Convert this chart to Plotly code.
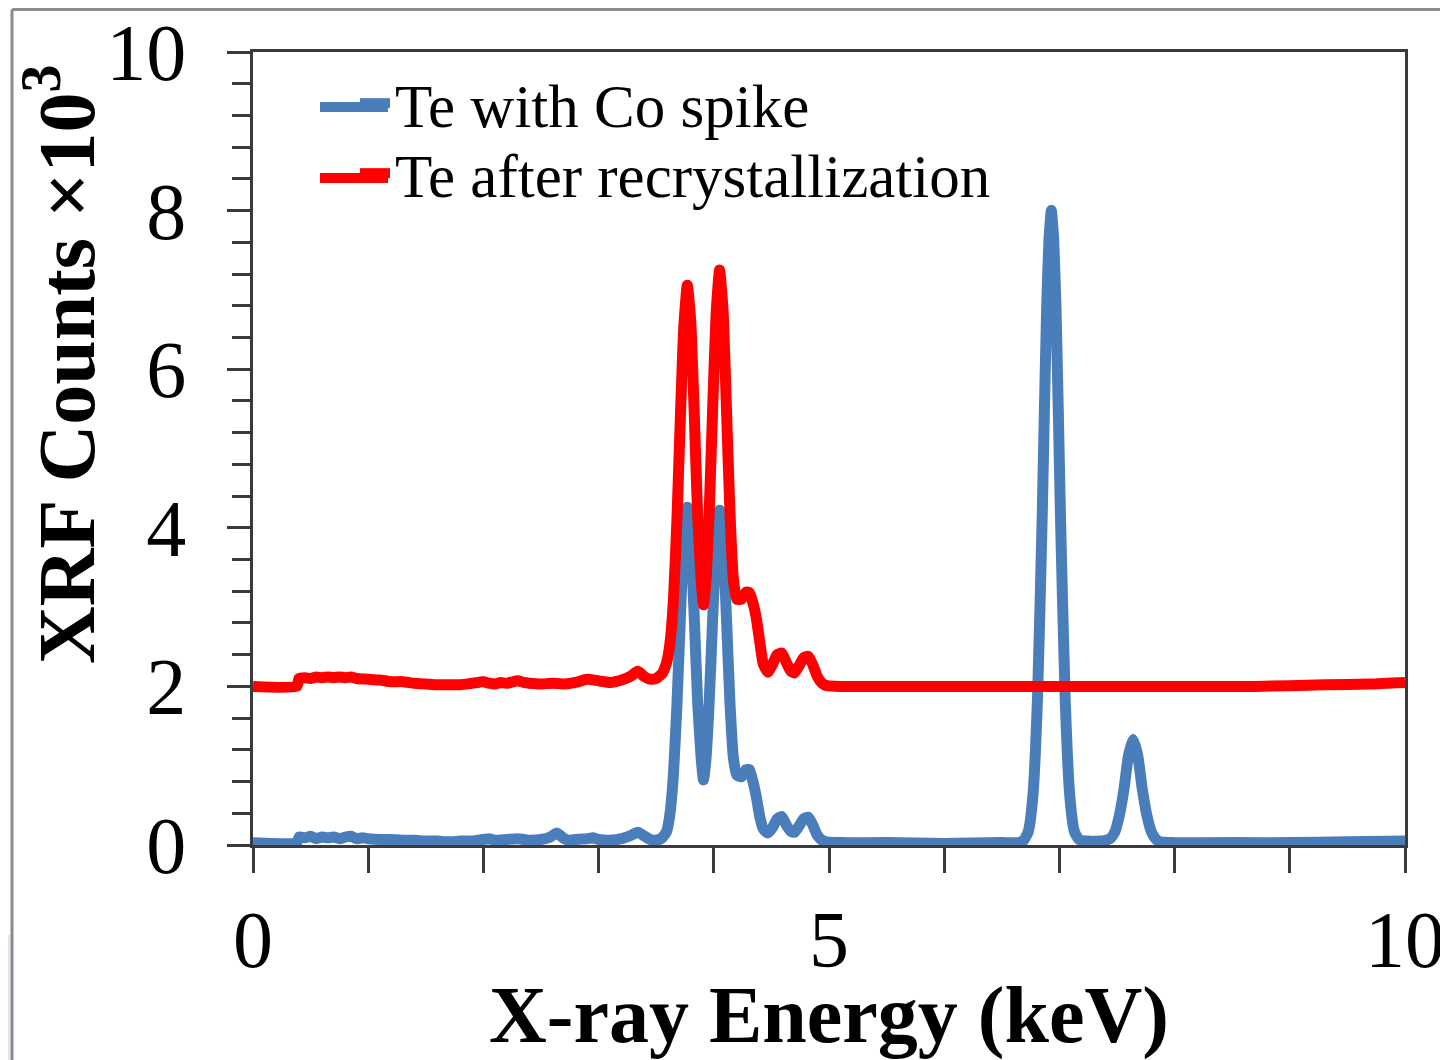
import plotly.graph_objects as go

# ---- data (energy in keV, counts x10^3) ----
co_energy = [0.00, 0.38, 0.40, 0.45, 0.50, 0.55, 0.60, 0.65, 0.70, 0.75, 0.80, 0.85, 0.90, 0.95, 1.00,
             1.10, 1.20, 1.30, 1.40, 1.50, 1.60, 1.70, 1.80, 1.90, 2.00, 2.05, 2.10, 2.20, 2.30, 2.35,
             2.40, 2.50, 2.58, 2.64, 2.70, 2.75, 2.80, 2.90, 2.95, 3.00, 3.10, 3.20, 3.28, 3.34, 3.40,
             3.45, 3.50, 3.55, 3.59, 3.62, 3.65, 3.68, 3.71, 3.74, 3.77, 3.80, 3.83, 3.86, 3.89, 3.91,
             3.93, 3.96, 3.99, 4.02, 4.05, 4.08, 4.11, 4.14, 4.17, 4.20, 4.24, 4.28, 4.31, 4.34, 4.37,
             4.40, 4.43, 4.47, 4.51, 4.55, 4.59, 4.63, 4.67, 4.70, 4.74, 4.78, 4.82, 4.86, 4.90, 4.94,
             4.98, 5.10, 5.50, 6.00, 6.50, 6.65, 6.69, 6.73, 6.77, 6.81, 6.85, 6.87, 6.89, 6.91, 6.93,
             6.95, 6.97, 6.99, 7.01, 7.05, 7.09, 7.13, 7.17, 7.25, 7.35, 7.40, 7.44, 7.48, 7.52, 7.56,
             7.60, 7.64, 7.68, 7.72, 7.76, 7.80, 7.84, 7.88, 8.00, 8.50, 9.00, 9.50, 10.00]
co_counts = [0.03, 0.03, 0.10, 0.09, 0.11, 0.08, 0.10, 0.09, 0.10, 0.08, 0.10, 0.11, 0.08, 0.09, 0.08,
             0.07, 0.07, 0.06, 0.06, 0.05, 0.05, 0.04, 0.05, 0.05, 0.07, 0.08, 0.06, 0.07, 0.08, 0.07,
             0.06, 0.07, 0.10, 0.15, 0.08, 0.06, 0.07, 0.08, 0.09, 0.07, 0.06, 0.08, 0.12, 0.16, 0.11,
             0.07, 0.06, 0.09, 0.17, 0.40, 0.90, 1.77, 2.87, 3.86, 4.26, 3.86, 2.88, 1.80, 1.10, 0.82,
             1.05, 1.80, 2.85, 3.81, 4.22, 3.82, 2.86, 1.80, 1.10, 0.88, 0.86, 0.95, 0.95, 0.80, 0.60,
             0.35, 0.20, 0.15, 0.22, 0.33, 0.36, 0.25, 0.17, 0.16, 0.24, 0.33, 0.35, 0.25, 0.12, 0.06,
             0.04, 0.03, 0.03, 0.02, 0.03, 0.03, 0.06, 0.17, 0.62, 1.85, 4.10, 5.50, 6.80, 7.65, 8.00,
             7.65, 6.80, 5.50, 4.10, 1.85, 0.62, 0.17, 0.07, 0.05, 0.05, 0.06, 0.08, 0.16, 0.37, 0.70,
             1.13, 1.33, 1.13, 0.70, 0.37, 0.16, 0.07, 0.04, 0.03, 0.03, 0.03, 0.04, 0.05]

rx_energy = [0.00, 0.38, 0.40, 0.45, 0.50, 0.55, 0.60, 0.65, 0.70, 0.75, 0.80, 0.85, 0.90, 1.00, 1.10,
             1.20, 1.30, 1.40, 1.50, 1.60, 1.70, 1.80, 1.90, 2.00, 2.05, 2.10, 2.15, 2.20, 2.30, 2.35,
             2.40, 2.50, 2.60, 2.70, 2.80, 2.90, 3.00, 3.10, 3.20, 3.28, 3.34, 3.40, 3.45, 3.50, 3.55,
             3.59, 3.62, 3.65, 3.68, 3.71, 3.74, 3.77, 3.80, 3.83, 3.86, 3.89, 3.91, 3.93, 3.96, 3.99,
             4.02, 4.05, 4.08, 4.11, 4.14, 4.17, 4.20, 4.24, 4.28, 4.31, 4.34, 4.37, 4.40, 4.43, 4.47,
             4.51, 4.55, 4.59, 4.63, 4.67, 4.70, 4.74, 4.78, 4.82, 4.86, 4.90, 4.94, 4.98, 5.10, 6.00,
             7.00, 8.00, 8.70, 9.30, 9.70, 10.00]
rx_counts = [2.00, 2.00, 2.10, 2.11, 2.10, 2.12, 2.11, 2.12, 2.11, 2.12, 2.11, 2.12, 2.10, 2.09, 2.08,
             2.06, 2.06, 2.04, 2.03, 2.02, 2.02, 2.02, 2.04, 2.06, 2.04, 2.03, 2.05, 2.04, 2.07, 2.05,
             2.04, 2.03, 2.04, 2.03, 2.05, 2.09, 2.07, 2.05, 2.08, 2.13, 2.19, 2.12, 2.09, 2.10, 2.16,
             2.30, 2.55, 3.10, 4.10, 5.40, 6.55, 7.06, 6.60, 5.45, 4.15, 3.35, 3.03, 3.30, 4.20, 5.50,
             6.70, 7.25, 6.75, 5.50, 4.20, 3.35, 3.10, 3.10, 3.19, 3.18, 3.05, 2.85, 2.55, 2.28, 2.18,
             2.28, 2.40, 2.42, 2.30, 2.19, 2.17, 2.26, 2.36, 2.38, 2.27, 2.12, 2.04, 2.01, 2.00, 2.00,
             2.00, 2.00, 2.00, 2.02, 2.03, 2.05]

series_names = ["Te with Co spike", "Te after recrystallization"]
series_colors = ["#4A7EBB", "#FF0000"]

x_tick_vals = [0, 5, 10]
x_tick_text = ["0", "5", "10"]
y_tick_vals = [0, 2, 4, 6, 8, 10]
y_tick_text = ["0", "2", "4", "6", "8", "10"]

FONT = "Liberation Serif"
AXC = "#3a3a3a"

# figure is 8 px smaller than the window to allow for the page's body margin
W, H = 1440, 1052
L, T = 245, 44
PW, PH = 1152, 793


def px_x(sx):  # screenshot x -> paper x
    return (sx - 8 - L) / PW


def px_y(sy):  # screenshot y -> paper y
    return (T + PH - (sy - 8)) / PH


fig = go.Figure()
fig.add_trace(go.Scatter(x=co_energy, y=co_counts, mode="lines", name=series_names[0], legend="legend",
                         line=dict(color=series_colors[0], width=11, shape="spline", smoothing=0.5)))
fig.add_trace(go.Scatter(x=rx_energy, y=rx_counts, mode="lines", name=series_names[1], legend="legend2",
                         line=dict(color=series_colors[1], width=11, shape="spline", smoothing=0.5)))

legend_common = dict(xanchor="left", yanchor="top", font=dict(family=FONT, size=61, color="black"),
                     bgcolor="rgba(0,0,0,0)", borderwidth=0, itemwidth=30)

fig.update_layout(
    width=W, height=H,
    margin=dict(l=L, r=W - L - PW, t=T, b=H - T - PH, autoexpand=False),
    paper_bgcolor="white", plot_bgcolor="white",
    font=dict(family=FONT, color="black"),
    showlegend=True,
    legend=dict(x=px_x(355), y=px_y(57), **legend_common),
    legend2=dict(x=px_x(355), y=px_y(127), **legend_common),
    xaxis=dict(range=[0, 10], tickmode="array", tickvals=x_tick_vals, ticktext=x_tick_text,
               ticks="outside", ticklen=25, tickwidth=2.5, tickcolor=AXC, automargin=False,
               minor=dict(dtick=1, tick0=0, ticks="outside", ticklen=25, tickwidth=2.5, tickcolor=AXC),
               showline=True, linecolor=AXC, linewidth=2.5, mirror=True,
               showgrid=False, zeroline=False, layer="below traces",
               tickfont=dict(family=FONT, size=80, color="black"), ticklabelstandoff=-2,
               title=dict(text="<b>X-ray Energy (keV)</b>", standoff=22,
                          font=dict(family=FONT, size=80, color="black"))),
    yaxis=dict(range=[0, 10], tickmode="array", tickvals=y_tick_vals, ticktext=y_tick_text,
               ticks="outside", ticklen=23, tickwidth=2.5, tickcolor=AXC, automargin=False,
               minor=dict(dtick=0.4, tick0=0, ticks="outside", ticklen=18, tickwidth=2.5, tickcolor=AXC),
               showline=True, linecolor=AXC, linewidth=2.5, mirror=True,
               showgrid=False, zeroline=False, layer="below traces",
               tickfont=dict(family=FONT, size=80, color="black"), ticklabelstandoff=25),
)

# y-axis title placed as in the reference (above centre)
fig.add_annotation(text="<b>XRF Counts ×10<sup>3</sup></b>", xref="paper", yref="paper",
                   x=px_x(60), y=px_y(364), xanchor="center", yanchor="middle",
                   textangle=-90, showarrow=False, font=dict(family=FONT, size=80, color="black"))

# longer legend keys, as in the reference
for sy, col in zip([107, 178], series_colors):
    fig.add_shape(type="line", xref="paper", yref="paper", x0=px_x(320), x1=px_x(388),
                  y0=px_y(sy), y1=px_y(sy), line=dict(color=col, width=10))

# outer frame of the original figure
fx = px_x(12)
fy = px_y(9.5)
fig.add_shape(type="line", xref="paper", yref="paper", x0=fx, x1=fx, y0=-0.4, y1=fy,
              line=dict(color="#8c8c8c", width=3))
fig.add_shape(type="line", xref="paper", yref="paper", x0=fx, x1=1.2, y0=fy, y1=fy,
              line=dict(color="#8c8c8c", width=3))
fig.add_shape(type="rect", xref="paper", yref="paper", x0=px_x(8), x1=px_x(10.5),
              y0=px_y(1070), y1=px_y(935), fillcolor="#dde8f4", line=dict(width=0),
              layer="below")

fig.write_html("out.html")
